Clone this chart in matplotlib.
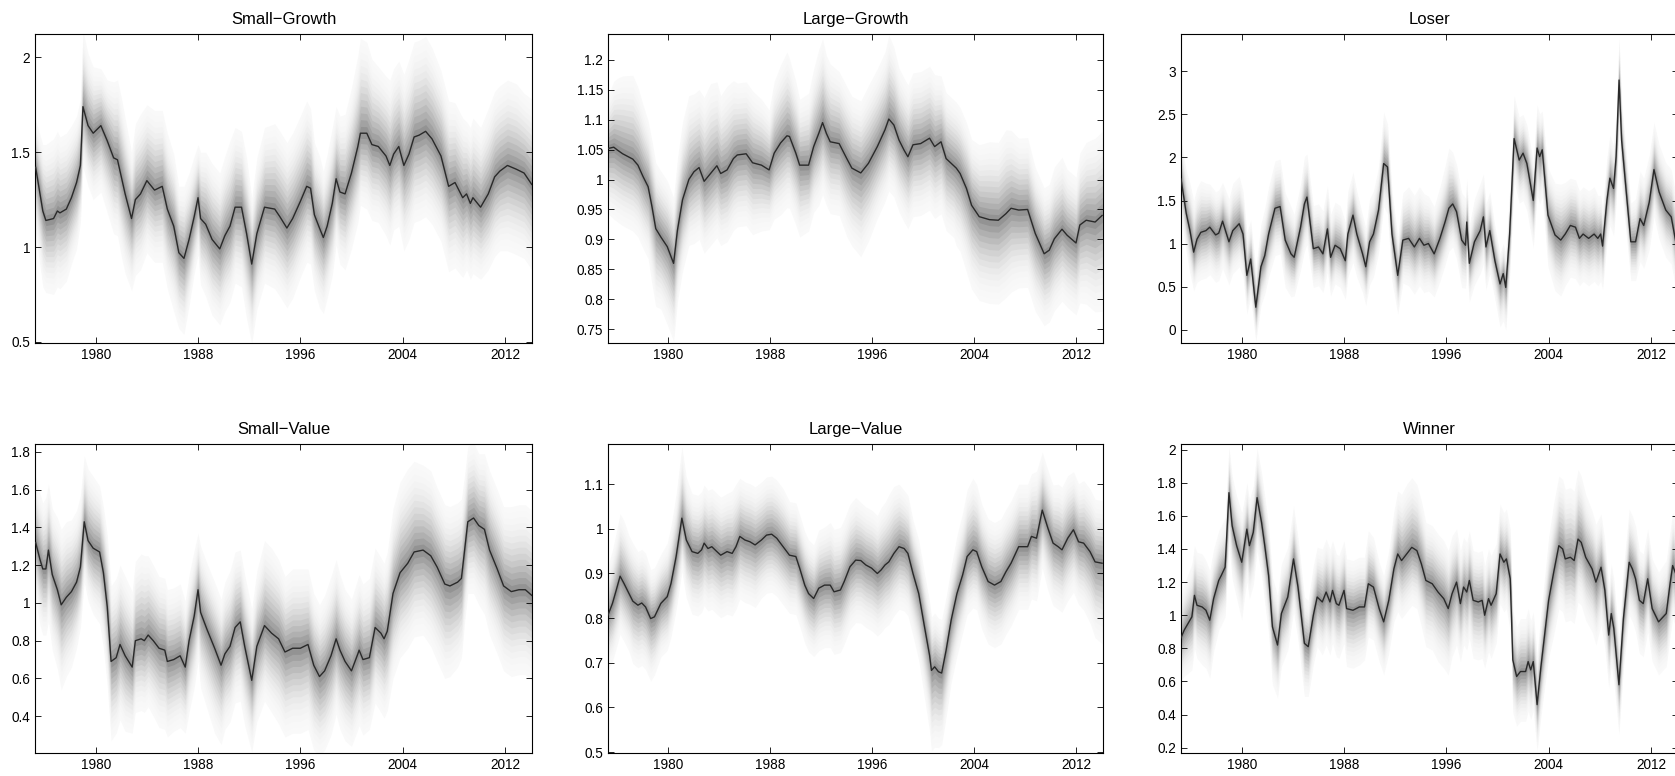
import matplotlib
matplotlib.use("Agg")
import matplotlib.pyplot as plt
import numpy as np
from matplotlib.ticker import MultipleLocator, FuncFormatter, FixedLocator

plt.rcParams['font.family'] = ['Liberation Sans', 'DejaVu Sans']

# ---------------- data ----------------
titles = ["Small\u2212Growth", "Large\u2212Growth", "Loser",
          "Small\u2212Value", "Large\u2212Value", "Winner"]
year_ticks = [1980, 1988, 1996, 2004, 2012]

sg_year = [1975.30,1975.86,1976.10,1976.70,1977.00,1977.20,1977.70,1978.10,1978.50,1978.80,1979.00,1979.40,1979.80,1980.40,1980.90,1981.40,1981.70,1982.00,1982.30,1982.80,1983.10,1983.50,1984.00,1984.60,1985.20,1985.60,1986.10,1986.50,1986.90,1987.30,1987.70,1988.00,1988.20,1988.60,1989.10,1989.70,1990.10,1990.50,1990.90,1991.40,1991.80,1992.20,1992.60,1993.20,1994.00,1994.40,1994.95,1995.40,1996.00,1996.50,1996.80,1997.10,1997.50,1997.80,1998.10,1998.50,1998.80,1999.10,1999.50,2000.00,2000.50,2000.70,2001.20,2001.60,2002.10,2002.70,2003.00,2003.30,2003.70,2004.10,2004.50,2004.90,2005.30,2005.80,2006.30,2007.00,2007.60,2008.10,2008.70,2009.00,2009.30,2009.50,2010.10,2010.70,2011.20,2011.60,2012.20,2012.90,2013.50,2014.10]
sg_med = [1.42,1.19,1.14,1.15,1.19,1.18,1.20,1.26,1.34,1.43,1.74,1.64,1.60,1.64,1.56,1.47,1.46,1.37,1.28,1.15,1.25,1.28,1.35,1.30,1.32,1.20,1.11,0.97,0.94,1.04,1.16,1.26,1.15,1.12,1.04,0.99,1.06,1.11,1.21,1.21,1.07,0.91,1.07,1.21,1.20,1.16,1.10,1.15,1.24,1.32,1.31,1.17,1.10,1.05,1.11,1.23,1.36,1.29,1.28,1.39,1.53,1.60,1.60,1.54,1.53,1.48,1.43,1.49,1.53,1.43,1.49,1.58,1.59,1.61,1.57,1.48,1.32,1.34,1.26,1.28,1.23,1.26,1.21,1.28,1.37,1.40,1.43,1.41,1.39,1.33]
sg_up = [0.25,0.35,0.40,0.42,0.42,0.40,0.40,0.38,0.35,0.35,0.40,0.38,0.35,0.30,0.32,0.40,0.42,0.42,0.40,0.35,0.40,0.42,0.40,0.42,0.40,0.40,0.38,0.35,0.38,0.35,0.32,0.28,0.35,0.38,0.40,0.40,0.42,0.45,0.42,0.40,0.40,0.35,0.40,0.42,0.45,0.45,0.45,0.45,0.45,0.45,0.42,0.38,0.38,0.35,0.38,0.40,0.38,0.40,0.42,0.45,0.48,0.50,0.48,0.45,0.42,0.42,0.45,0.45,0.45,0.48,0.50,0.50,0.50,0.50,0.48,0.45,0.45,0.42,0.42,0.38,0.40,0.42,0.42,0.45,0.45,0.45,0.45,0.45,0.42,0.45]
sg_dn = [0.35,0.40,0.38,0.40,0.40,0.40,0.38,0.35,0.35,0.30,0.32,0.32,0.35,0.35,0.38,0.40,0.40,0.42,0.42,0.38,0.40,0.40,0.38,0.38,0.40,0.42,0.45,0.40,0.40,0.35,0.30,0.30,0.35,0.38,0.40,0.40,0.40,0.40,0.40,0.42,0.45,0.42,0.40,0.40,0.42,0.42,0.42,0.42,0.40,0.40,0.40,0.40,0.42,0.40,0.38,0.38,0.35,0.38,0.40,0.40,0.40,0.38,0.40,0.40,0.40,0.42,0.42,0.40,0.42,0.45,0.45,0.45,0.45,0.45,0.45,0.45,0.45,0.45,0.42,0.40,0.40,0.40,0.38,0.40,0.42,0.42,0.45,0.45,0.45,0.45]

lg_year = [1975.30,1975.70,1976.00,1976.40,1977.20,1977.60,1978.00,1978.40,1978.70,1979.00,1979.40,1979.90,1980.40,1980.70,1981.10,1981.60,1982.00,1982.40,1982.80,1983.30,1983.80,1984.10,1984.60,1985.10,1985.40,1986.10,1986.60,1987.30,1987.90,1988.30,1988.80,1989.30,1989.50,1990.00,1990.30,1991.00,1991.40,1991.80,1992.10,1992.40,1992.70,1993.40,1994.00,1994.40,1995.10,1995.70,1996.40,1997.00,1997.30,1997.70,1998.10,1998.50,1998.80,1999.20,1999.80,2000.50,2000.90,2001.40,2001.80,2002.40,2002.60,2002.90,2003.40,2003.80,2004.40,2005.20,2005.90,2006.50,2006.90,2007.50,2008.20,2008.80,2009.50,2009.90,2010.30,2010.90,2011.30,2012.00,2012.30,2012.80,2013.50,2014.05]
lg_med = [1.052,1.054,1.049,1.043,1.034,1.024,1.005,0.988,0.955,0.918,0.904,0.888,0.860,0.915,0.966,1.000,1.013,1.020,0.997,1.010,1.023,1.010,1.016,1.035,1.041,1.043,1.028,1.024,1.016,1.044,1.061,1.073,1.072,1.044,1.024,1.024,1.055,1.077,1.095,1.077,1.063,1.060,1.035,1.019,1.011,1.027,1.055,1.083,1.101,1.091,1.066,1.049,1.038,1.058,1.060,1.069,1.055,1.063,1.035,1.023,1.019,1.010,0.985,0.957,0.938,0.933,0.932,0.943,0.952,0.949,0.950,0.910,0.876,0.882,0.901,0.917,0.907,0.894,0.924,0.932,0.929,0.940]
lg_up = [0.09,0.11,0.12,0.13,0.14,0.13,0.12,0.11,0.11,0.11,0.11,0.11,0.11,0.12,0.13,0.14,0.13,0.13,0.14,0.15,0.14,0.13,0.14,0.13,0.12,0.12,0.12,0.11,0.10,0.12,0.13,0.14,0.13,0.12,0.11,0.12,0.13,0.14,0.14,0.13,0.13,0.12,0.12,0.12,0.12,0.13,0.13,0.13,0.14,0.13,0.12,0.12,0.12,0.12,0.12,0.12,0.12,0.11,0.11,0.11,0.11,0.11,0.11,0.11,0.12,0.13,0.13,0.14,0.13,0.12,0.12,0.11,0.11,0.11,0.12,0.12,0.11,0.11,0.12,0.13,0.14,0.14]
lg_dn = [0.11,0.12,0.12,0.12,0.12,0.12,0.12,0.12,0.13,0.13,0.12,0.13,0.13,0.12,0.12,0.11,0.12,0.12,0.12,0.12,0.12,0.12,0.12,0.12,0.12,0.12,0.12,0.11,0.10,0.11,0.12,0.12,0.12,0.12,0.12,0.11,0.11,0.12,0.12,0.12,0.12,0.12,0.13,0.13,0.14,0.13,0.12,0.12,0.12,0.12,0.12,0.12,0.12,0.12,0.12,0.12,0.12,0.12,0.12,0.12,0.13,0.13,0.14,0.14,0.14,0.14,0.14,0.14,0.14,0.13,0.13,0.13,0.12,0.12,0.12,0.12,0.12,0.12,0.13,0.14,0.15,0.16]

lo_year = [1975.25,1975.66,1975.95,1976.24,1976.50,1976.80,1977.20,1977.50,1977.96,1978.20,1978.50,1979.00,1979.30,1979.80,1980.10,1980.40,1980.70,1981.10,1981.50,1981.80,1982.10,1982.60,1983.00,1983.40,1983.85,1984.10,1984.60,1984.90,1985.10,1985.60,1986.00,1986.35,1986.70,1986.95,1987.30,1987.70,1988.10,1988.30,1988.70,1989.00,1989.45,1989.70,1990.00,1990.30,1990.70,1991.10,1991.40,1991.75,1992.20,1992.60,1993.05,1993.50,1993.90,1994.25,1994.60,1995.05,1995.50,1995.90,1996.20,1996.50,1996.80,1997.20,1997.50,1997.60,1997.80,1998.20,1998.65,1998.90,1999.10,1999.40,1999.80,2000.20,2000.45,2000.65,2000.95,2001.30,2001.70,2002.00,2002.30,2002.80,2003.10,2003.30,2003.50,2003.95,2004.50,2004.95,2005.30,2005.70,2006.10,2006.41,2006.70,2007.13,2007.56,2007.85,2008.07,2008.22,2008.56,2008.79,2009.08,2009.28,2009.51,2009.71,2010.06,2010.43,2010.80,2011.15,2011.44,2011.87,2012.24,2012.64,2013.16,2013.59,2013.97]
lo_med = [1.75,1.35,1.15,0.90,1.05,1.13,1.15,1.19,1.10,1.12,1.26,1.02,1.15,1.23,1.11,0.63,0.82,0.26,0.73,0.86,1.11,1.41,1.43,1.04,0.88,0.84,1.19,1.46,1.54,0.94,0.96,0.88,1.17,0.84,0.98,0.94,0.80,1.11,1.33,1.11,0.88,0.73,1.02,1.11,1.39,1.93,1.89,1.11,0.63,1.04,1.06,0.96,1.06,0.98,1.00,0.88,1.06,1.25,1.41,1.46,1.37,1.04,0.98,1.25,0.77,1.02,1.15,1.31,0.96,1.15,0.80,0.53,0.65,0.49,1.11,2.22,1.97,2.05,1.93,1.50,2.11,2.01,2.09,1.33,1.10,1.04,1.11,1.21,1.19,1.06,1.11,1.06,1.11,1.06,1.11,0.97,1.50,1.76,1.64,2.01,2.90,2.20,1.62,1.02,1.02,1.29,1.21,1.48,1.86,1.60,1.39,1.31,1.00]
lo_up = [0.45,0.50,0.55,0.60,0.60,0.60,0.55,0.50,0.50,0.50,0.45,0.50,0.55,0.55,0.50,0.50,0.45,0.45,0.50,0.55,0.55,0.55,0.55,0.55,0.55,0.50,0.50,0.55,0.50,0.50,0.50,0.50,0.50,0.50,0.50,0.50,0.45,0.50,0.50,0.50,0.45,0.45,0.50,0.50,0.50,0.60,0.50,0.50,0.45,0.55,0.60,0.60,0.60,0.60,0.55,0.55,0.60,0.65,0.70,0.60,0.55,0.55,0.55,0.50,0.45,0.50,0.55,0.50,0.50,0.45,0.40,0.35,0.35,0.40,0.50,0.50,0.50,0.45,0.45,0.45,0.50,0.50,0.45,0.55,0.60,0.65,0.60,0.55,0.55,0.55,0.55,0.55,0.55,0.50,0.45,0.45,0.50,0.50,0.50,0.50,0.50,0.45,0.45,0.45,0.50,0.55,0.55,0.55,0.55,0.55,0.55,0.55,0.55]
lo_dn = [0.45,0.45,0.50,0.45,0.50,0.55,0.55,0.55,0.55,0.55,0.55,0.50,0.50,0.50,0.50,0.45,0.45,0.40,0.45,0.45,0.50,0.55,0.55,0.55,0.50,0.45,0.50,0.55,0.55,0.45,0.45,0.45,0.50,0.45,0.45,0.45,0.45,0.50,0.55,0.50,0.45,0.45,0.50,0.50,0.50,0.50,0.55,0.55,0.45,0.50,0.55,0.55,0.55,0.55,0.55,0.50,0.50,0.50,0.50,0.50,0.55,0.55,0.50,0.55,0.45,0.50,0.50,0.55,0.50,0.50,0.45,0.50,0.55,0.50,0.50,0.50,0.50,0.55,0.55,0.55,0.55,0.55,0.55,0.60,0.65,0.65,0.60,0.60,0.60,0.55,0.55,0.55,0.55,0.55,0.55,0.50,0.50,0.55,0.55,0.55,0.60,0.55,0.50,0.45,0.45,0.50,0.50,0.55,0.55,0.55,0.55,0.55,0.55]

sv_year = [1975.30,1975.64,1975.86,1976.10,1976.30,1976.60,1977.00,1977.30,1977.70,1978.10,1978.50,1978.80,1979.10,1979.40,1979.80,1980.30,1980.60,1980.90,1981.20,1981.60,1981.90,1982.30,1982.85,1983.10,1983.55,1983.80,1984.10,1984.50,1984.95,1985.40,1985.60,1986.10,1986.60,1987.00,1987.30,1987.70,1988.00,1988.20,1988.70,1989.30,1989.80,1990.10,1990.50,1990.90,1991.30,1991.65,1992.20,1992.60,1993.20,1993.75,1994.30,1994.80,1995.40,1996.00,1996.60,1997.05,1997.50,1997.90,1998.40,1998.80,1999.10,1999.50,2000.00,2000.50,2000.60,2000.90,2001.40,2001.85,2002.30,2002.55,2002.80,2003.25,2003.80,2004.40,2004.90,2005.60,2006.20,2006.70,2007.30,2007.70,2008.30,2008.60,2008.85,2009.10,2009.55,2009.96,2010.40,2010.80,2011.40,2011.90,2012.50,2013.10,2013.60,2014.10]
sv_med = [1.32,1.23,1.18,1.18,1.28,1.15,1.07,0.99,1.03,1.06,1.11,1.19,1.43,1.33,1.29,1.27,1.16,0.98,0.69,0.71,0.78,0.72,0.66,0.80,0.81,0.80,0.83,0.80,0.76,0.75,0.69,0.70,0.72,0.66,0.80,0.93,1.07,0.95,0.86,0.76,0.67,0.73,0.77,0.87,0.90,0.77,0.59,0.77,0.88,0.84,0.81,0.74,0.76,0.76,0.78,0.67,0.61,0.64,0.72,0.81,0.75,0.69,0.64,0.73,0.75,0.70,0.71,0.87,0.84,0.81,0.85,1.05,1.16,1.21,1.27,1.28,1.25,1.19,1.10,1.09,1.11,1.13,1.28,1.43,1.45,1.41,1.39,1.28,1.18,1.09,1.06,1.07,1.07,1.04]
sv_up = [0.35,0.35,0.35,0.38,0.35,0.35,0.38,0.40,0.40,0.38,0.38,0.38,0.35,0.38,0.38,0.35,0.35,0.38,0.40,0.42,0.42,0.42,0.40,0.42,0.45,0.45,0.42,0.40,0.38,0.38,0.38,0.38,0.38,0.35,0.35,0.35,0.30,0.35,0.35,0.35,0.35,0.38,0.40,0.40,0.38,0.38,0.38,0.40,0.45,0.45,0.42,0.40,0.42,0.42,0.40,0.38,0.38,0.40,0.42,0.42,0.40,0.38,0.38,0.40,0.40,0.40,0.42,0.42,0.40,0.40,0.42,0.45,0.48,0.50,0.48,0.45,0.45,0.42,0.42,0.42,0.42,0.42,0.40,0.40,0.40,0.38,0.40,0.42,0.42,0.42,0.45,0.45,0.45,0.45]
sv_dn = [0.30,0.35,0.35,0.35,0.38,0.40,0.42,0.45,0.42,0.40,0.35,0.32,0.32,0.32,0.35,0.38,0.40,0.42,0.42,0.40,0.40,0.40,0.35,0.38,0.38,0.38,0.38,0.40,0.42,0.42,0.40,0.38,0.38,0.35,0.38,0.38,0.38,0.40,0.42,0.45,0.42,0.40,0.40,0.40,0.42,0.42,0.38,0.40,0.40,0.42,0.45,0.45,0.45,0.45,0.45,0.45,0.42,0.42,0.42,0.40,0.42,0.42,0.40,0.40,0.40,0.40,0.38,0.40,0.42,0.42,0.42,0.45,0.45,0.45,0.45,0.45,0.48,0.50,0.50,0.48,0.45,0.42,0.38,0.38,0.40,0.42,0.45,0.45,0.45,0.45,0.45,0.45,0.45,0.45]

lv_year = [1975.20,1975.60,1975.90,1976.20,1976.50,1976.90,1977.20,1977.60,1977.90,1978.20,1978.60,1978.90,1979.40,1979.90,1980.20,1980.60,1981.05,1981.40,1981.85,1982.30,1982.60,1982.80,1983.10,1983.40,1983.80,1984.10,1984.60,1985.00,1985.30,1985.60,1986.00,1986.40,1986.80,1987.30,1987.70,1988.10,1988.50,1989.00,1989.50,1990.00,1990.30,1990.70,1991.00,1991.40,1991.80,1992.25,1992.70,1993.00,1993.50,1993.80,1994.25,1994.70,1995.10,1995.50,1995.95,1996.40,1996.70,1997.00,1997.30,1997.70,1998.10,1998.50,1998.80,1999.20,1999.65,2000.10,2000.50,2000.65,2000.90,2001.20,2001.45,2001.80,2002.20,2002.65,2003.10,2003.45,2003.90,2004.20,2004.60,2005.10,2005.60,2006.10,2006.50,2006.90,2007.50,2007.90,2008.20,2008.50,2008.90,2009.35,2009.80,2010.20,2010.60,2010.90,2011.35,2011.80,2012.20,2012.60,2013.10,2013.50,2014.05]
lv_med = [0.803,0.833,0.863,0.894,0.878,0.855,0.838,0.829,0.834,0.825,0.799,0.803,0.833,0.848,0.878,0.938,1.024,0.975,0.949,0.945,0.953,0.968,0.956,0.960,0.949,0.941,0.949,0.945,0.960,0.983,0.975,0.971,0.964,0.975,0.986,0.988,0.979,0.960,0.941,0.938,0.912,0.874,0.855,0.844,0.867,0.874,0.874,0.859,0.863,0.882,0.915,0.930,0.929,0.919,0.912,0.900,0.908,0.919,0.926,0.945,0.960,0.956,0.945,0.900,0.855,0.781,0.717,0.683,0.691,0.680,0.677,0.728,0.796,0.855,0.897,0.938,0.953,0.949,0.915,0.882,0.874,0.882,0.904,0.923,0.960,0.960,0.960,0.983,0.979,1.042,1.001,0.968,0.960,0.953,0.979,0.998,0.971,0.968,0.949,0.926,0.923]
lv_up = [0.11,0.12,0.13,0.14,0.14,0.13,0.13,0.12,0.12,0.12,0.11,0.11,0.11,0.12,0.13,0.14,0.16,0.14,0.13,0.13,0.13,0.13,0.13,0.13,0.13,0.13,0.13,0.14,0.14,0.13,0.13,0.13,0.13,0.13,0.13,0.13,0.13,0.13,0.12,0.12,0.12,0.12,0.12,0.12,0.13,0.13,0.14,0.14,0.14,0.14,0.14,0.14,0.13,0.13,0.13,0.13,0.14,0.14,0.15,0.15,0.14,0.13,0.13,0.12,0.12,0.12,0.12,0.12,0.12,0.12,0.12,0.12,0.12,0.13,0.14,0.15,0.16,0.15,0.14,0.14,0.14,0.14,0.14,0.14,0.14,0.14,0.14,0.14,0.15,0.13,0.13,0.13,0.14,0.14,0.14,0.13,0.13,0.14,0.14,0.14,0.14]
lv_dn = [0.12,0.13,0.13,0.13,0.13,0.13,0.14,0.14,0.14,0.14,0.14,0.13,0.12,0.12,0.12,0.12,0.12,0.13,0.14,0.14,0.14,0.14,0.14,0.14,0.14,0.14,0.14,0.14,0.14,0.14,0.14,0.14,0.14,0.13,0.13,0.13,0.13,0.13,0.13,0.13,0.13,0.13,0.13,0.13,0.14,0.14,0.14,0.14,0.14,0.14,0.14,0.14,0.14,0.14,0.14,0.14,0.14,0.14,0.14,0.14,0.14,0.14,0.14,0.14,0.15,0.16,0.17,0.18,0.18,0.17,0.16,0.15,0.14,0.14,0.13,0.13,0.13,0.13,0.14,0.14,0.14,0.14,0.14,0.14,0.14,0.14,0.14,0.14,0.14,0.13,0.14,0.14,0.14,0.14,0.14,0.14,0.14,0.15,0.16,0.17,0.18]

wi_year = [1975.23,1975.50,1975.80,1976.10,1976.30,1976.50,1976.90,1977.20,1977.50,1977.80,1978.20,1978.40,1978.70,1979.00,1979.25,1979.60,1980.00,1980.20,1980.40,1980.60,1980.90,1981.20,1981.55,1981.80,1982.10,1982.40,1982.80,1983.10,1983.60,1984.05,1984.40,1984.90,1985.20,1985.60,1985.90,1986.30,1986.60,1986.90,1987.10,1987.40,1987.60,1988.00,1988.20,1988.70,1989.20,1989.60,1989.90,1990.30,1990.75,1991.10,1991.50,1991.90,1992.20,1992.50,1992.90,1993.30,1993.70,1994.05,1994.40,1994.90,1995.35,1995.80,1996.15,1996.45,1996.80,1997.10,1997.35,1997.60,1997.80,1998.10,1998.50,1998.80,1999.00,1999.30,1999.50,1999.90,2000.20,2000.50,2000.70,2001.00,2001.20,2001.50,2001.80,2002.20,2002.40,2002.60,2002.80,2003.10,2003.40,2003.70,2004.00,2004.40,2004.80,2005.10,2005.30,2005.70,2006.00,2006.30,2006.55,2006.90,2007.40,2007.70,2008.10,2008.40,2008.70,2008.90,2009.10,2009.50,2009.85,2010.30,2010.55,2010.80,2011.10,2011.40,2011.75,2012.10,2012.60,2013.20,2013.50,2013.70,2014.00]
wi_med = [0.86,0.91,0.95,0.99,1.12,1.06,1.05,1.03,0.97,1.10,1.21,1.24,1.29,1.74,1.54,1.42,1.32,1.42,1.52,1.42,1.50,1.71,1.56,1.42,1.24,0.93,0.82,1.01,1.11,1.34,1.17,0.83,0.81,1.00,1.11,1.08,1.14,1.08,1.15,1.07,1.06,1.15,1.04,1.03,1.05,1.05,1.19,1.17,1.04,0.96,1.09,1.28,1.37,1.33,1.37,1.41,1.39,1.31,1.21,1.19,1.14,1.10,1.04,1.13,1.20,1.07,1.17,1.14,1.21,1.09,1.08,1.09,1.00,1.10,1.06,1.13,1.37,1.32,1.34,1.22,0.73,0.63,0.66,0.66,0.72,0.67,0.72,0.46,0.69,0.89,1.09,1.26,1.42,1.40,1.34,1.35,1.33,1.46,1.44,1.35,1.28,1.20,1.29,1.15,0.88,1.01,0.92,0.58,0.98,1.32,1.28,1.22,1.09,1.07,1.22,1.04,0.96,1.01,1.19,1.30,1.24]
wi_up = [0.25,0.28,0.30,0.32,0.30,0.32,0.32,0.30,0.30,0.30,0.30,0.30,0.30,0.28,0.30,0.30,0.30,0.28,0.28,0.28,0.28,0.30,0.30,0.30,0.30,0.30,0.30,0.30,0.30,0.32,0.30,0.28,0.28,0.30,0.30,0.32,0.32,0.32,0.30,0.30,0.30,0.30,0.30,0.30,0.30,0.30,0.32,0.30,0.28,0.28,0.30,0.35,0.38,0.40,0.42,0.42,0.40,0.38,0.35,0.35,0.35,0.35,0.35,0.35,0.32,0.32,0.30,0.30,0.30,0.30,0.30,0.30,0.30,0.30,0.30,0.30,0.30,0.30,0.30,0.30,0.30,0.30,0.32,0.32,0.32,0.30,0.30,0.30,0.32,0.35,0.38,0.42,0.42,0.42,0.42,0.42,0.42,0.42,0.40,0.38,0.35,0.35,0.32,0.30,0.30,0.30,0.30,0.28,0.30,0.32,0.32,0.32,0.30,0.30,0.30,0.30,0.30,0.32,0.32,0.32,0.32]
wi_dn = [0.25,0.28,0.30,0.32,0.32,0.32,0.35,0.35,0.35,0.32,0.30,0.30,0.30,0.32,0.32,0.32,0.35,0.32,0.32,0.32,0.32,0.32,0.32,0.35,0.35,0.35,0.32,0.32,0.32,0.32,0.32,0.32,0.30,0.30,0.30,0.32,0.32,0.32,0.32,0.32,0.32,0.32,0.35,0.35,0.35,0.32,0.32,0.32,0.32,0.32,0.32,0.32,0.35,0.35,0.35,0.35,0.35,0.38,0.40,0.40,0.42,0.42,0.40,0.38,0.38,0.35,0.35,0.35,0.35,0.35,0.35,0.35,0.32,0.32,0.32,0.30,0.30,0.30,0.30,0.32,0.32,0.30,0.30,0.30,0.30,0.30,0.30,0.28,0.30,0.32,0.35,0.38,0.38,0.38,0.38,0.38,0.38,0.38,0.38,0.38,0.38,0.38,0.35,0.35,0.32,0.32,0.32,0.30,0.30,0.32,0.32,0.32,0.32,0.32,0.32,0.32,0.32,0.32,0.32,0.32,0.32]

panels = [
    (sg_year, sg_med, sg_up, sg_dn),
    (lg_year, lg_med, lg_up, lg_dn),
    (lo_year, lo_med, lo_up, lo_dn),
    (sv_year, sv_med, sv_up, sv_dn),
    (lv_year, lv_med, lv_up, lv_dn),
    (wi_year, wi_med, wi_up, wi_dn),
]
ylims = [(0.494, 2.123), (0.727, 1.243), (-0.156, 3.435),
         (0.205, 1.842), (0.498, 1.19), (0.168, 2.034)]
ysteps = [0.5, 0.05, 0.5, 0.2, 0.1, 0.2]
xlim = (1975.25, 2014.12)

# ---------------- layout ----------------
W, H = 1675, 776
fig = plt.figure(figsize=(W / 100, H / 100), dpi=100)
col_left = [35, 608, 1181]
col_width = [497, 495, 497]
row_top = [34, 444]
ax_h = 309

n_levels = 14
fracs = [(n_levels - k) / n_levels for k in range(n_levels)]
tt = np.linspace(0, 1, n_levels)
greys = 0.975 - 0.40 * tt ** 2.0

for i, (yr, med, up, dn) in enumerate(panels):
    r, c = divmod(i, 3)
    left = col_left[c] / W
    bottom = 1 - (row_top[r] + ax_h) / H
    ax = fig.add_axes([left, bottom, col_width[c] / W, ax_h / H])
    yr = np.asarray(yr); med = np.asarray(med)
    up = np.asarray(up); dn = np.asarray(dn)
    for f, g in zip(fracs, greys):
        ax.fill_between(yr, med - dn * f, med + up * f,
                        color=(g, g, g), linewidth=0, zorder=1)
    ax.plot(yr, med, color='#2a2a2a', lw=1.0, zorder=3)
    ax.set_xlim(*xlim)
    ax.set_ylim(*ylims[i])
    ax.xaxis.set_major_locator(FixedLocator(year_ticks))
    ax.xaxis.set_major_formatter(FuncFormatter(lambda v, p: f"{int(round(v))}"))
    ax.yaxis.set_major_locator(MultipleLocator(ysteps[i]))
    ax.yaxis.set_major_formatter(FuncFormatter(lambda v, p: f"{round(v, 4):g}"))
    ax.tick_params(direction='in', top=True, right=True, length=4, width=0.6,
                   labelsize=9.8, colors='black', pad=3.5)
    for s in ax.spines.values():
        s.set_linewidth(0.8)
        s.set_color('black')
    ax.set_title(titles[i], fontsize=12, pad=7)

fig.savefig("out.png", dpi=100)
